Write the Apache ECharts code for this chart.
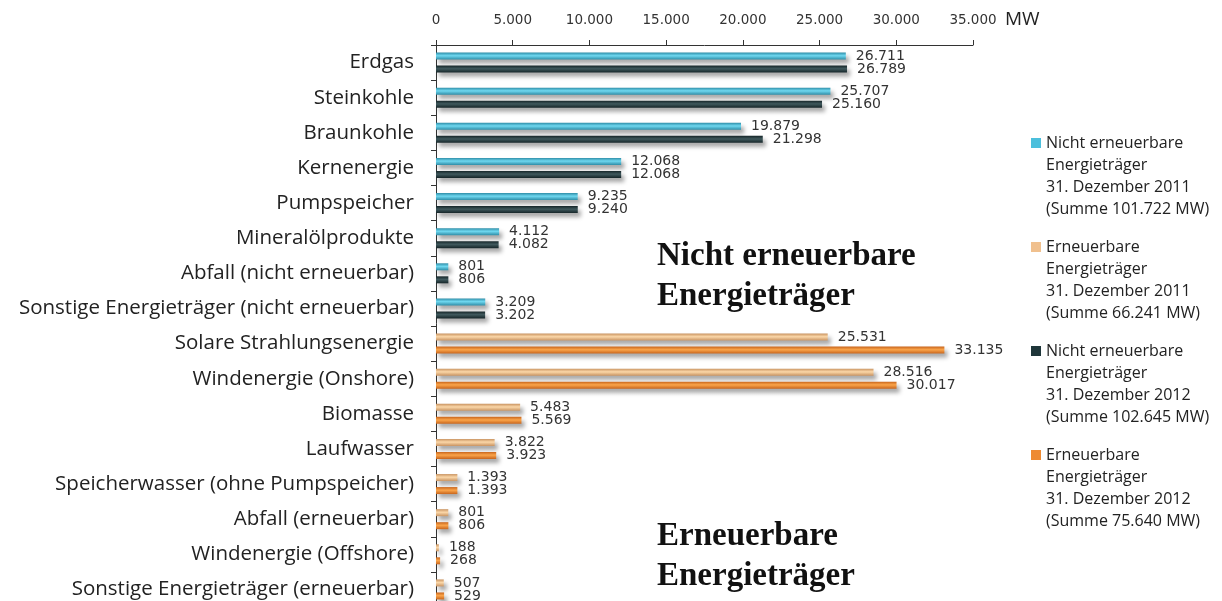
<!DOCTYPE html>
<html>
<head>
<meta charset="utf-8">
<script src="https://cdn.jsdelivr.net/npm/echarts@6/dist/echarts.min.js"></script>
<style>
  html, body { margin: 0; padding: 0; background: #fff; }
  #chart { width: 1222px; height: 601px; }
</style>
</head>
<body>
<div id="chart"></div>
<script>
var categories = ['Erdgas', 'Steinkohle', 'Braunkohle', 'Kernenergie', 'Pumpspeicher',
    'Mineralölprodukte', 'Abfall (nicht erneuerbar)', 'Sonstige Energieträger (nicht erneuerbar)',
    'Solare Strahlungsenergie', 'Windenergie (Onshore)', 'Biomasse', 'Laufwasser',
    'Speicherwasser (ohne Pumpspeicher)', 'Abfall (erneuerbar)', 'Windenergie (Offshore)',
    'Sonstige Energieträger (erneuerbar)'];

// MW, Stand 31.12.2011 / 31.12.2012
var nonRen2011 = [26711, 25707, 19879, 12068, 9235, 4112, 801, 3209];
var nonRen2012 = [26789, 25160, 21298, 12068, 9240, 4082, 806, 3202];
var ren2011 = [25531, 28516, 5483, 3822, 1393, 801, 188, 507];
var ren2012 = [33135, 30017, 5569, 3923, 1393, 806, 268, 529];

var seriesNames = [
    'Nicht erneuerbare\nEnergieträger\n31. Dezember 2011\n(Summe 101.722 MW)',
    'Erneuerbare\nEnergieträger\n31. Dezember 2011\n(Summe 66.241 MW)',
    'Nicht erneuerbare\nEnergieträger\n31. Dezember 2012\n(Summe 102.645 MW)',
    'Erneuerbare\nEnergieträger\n31. Dezember 2012\n(Summe 75.640 MW)'
];
var legendColors = ['#4cbfdc', '#f0c08e', '#1f363a', '#ee8a32'];
var axisTicks = [0, 5000, 10000, 15000, 20000, 25000, 30000, 35000];

var empty8 = ['-', '-', '-', '-', '-', '-', '-', '-'];

var fmt = function (v) {
    return String(v).replace(/\B(?=(\d{3})+(?!\d))/g, '.');
};

var grad = function (edge, mid) {
    return new echarts.graphic.LinearGradient(0, 0, 0, 1, [
        {offset: 0, color: edge},
        {offset: 0.45, color: mid},
        {offset: 1, color: edge}
    ]);
};

var makeSeries = function (idx, stack, data, edge, mid) {
    return {
        name: seriesNames[idx],
        type: 'bar',
        stack: stack,
        barWidth: 7,
        barGap: '86%',
        data: data,
        itemStyle: {
            color: grad(edge, mid),
            shadowColor: 'rgba(0,0,0,0.35)',
            shadowBlur: 4,
            shadowOffsetX: 3,
            shadowOffsetY: 4
        },
        label: {
            show: true,
            position: 'right',
            distance: 10,
            color: '#333',
            fontFamily: 'DejaVu Sans',
            fontSize: 14,
            formatter: function (p) { return fmt(p.value); }
        }
    };
};

// square sits on the first text line, the rest of the icon box is empty
var legendIcon = 'path://M0,0L0.01,0L0.01,0.01Z M0,6L10,6L10,16L0,16Z M0,88L0.01,88L0.01,87.99Z';

var chart = echarts.init(document.getElementById('chart'));
var option = {
    animation: false,
    backgroundColor: '#fff',
    grid: {left: 436, right: 249, top: 45, bottom: -6, outerBoundsMode: 'none'},
    legend: {
        orient: 'vertical',
        left: 1031,
        top: 132,
        padding: 0,
        itemGap: 16,
        itemWidth: 10,
        itemHeight: 88,
        icon: legendIcon,
        textStyle: {
            fontFamily: 'Open Sans',
            fontSize: 16,
            color: '#222',
            lineHeight: 22
        },
        data: seriesNames.map(function (n, i) {
            return {name: n, itemStyle: {color: legendColors[i], shadowBlur: 0, shadowColor: 'transparent'}};
        })
    },
    xAxis: {
        type: 'value',
        position: 'top',
        min: 0,
        max: 35000,
        interval: 5000,
        name: 'MW',
        nameLocation: 'end',
        nameGap: 32,
        nameTextStyle: {
            fontFamily: 'Open Sans',
            fontSize: 19,
            color: '#222',
            verticalAlign: 'bottom',
            lineHeight: 50
        },
        splitLine: {show: false},
        axisLine: {show: true, lineStyle: {color: '#333'}},
        axisTick: {show: true, length: 5, lineStyle: {color: '#333'}},
        axisLabel: {
            margin: 18,
            color: '#333',
            fontFamily: 'DejaVu Sans',
            fontSize: 13.5,
            formatter: function (v) { return axisTicks.indexOf(v) >= 0 ? fmt(v) : ''; }
        }
    },
    yAxis: {
        type: 'category',
        inverse: true,
        data: categories,
        axisLine: {show: true, lineStyle: {color: '#333'}},
        axisTick: {show: true, length: 5, lineStyle: {color: '#333'}},
        axisLabel: {
            margin: 22,
            color: '#222',
            fontFamily: 'Open Sans',
            fontSize: 20.5
        }
    },
    series: [
        makeSeries(0, 'y2011', nonRen2011.concat(empty8), '#2f8ea8', '#6fd8f0'),
        makeSeries(1, 'y2011', empty8.concat(ren2011), '#c99462', '#fbd7a8'),
        makeSeries(2, 'y2012', nonRen2012.concat(empty8), '#152528', '#40595d'),
        makeSeries(3, 'y2012', empty8.concat(ren2012), '#c8651c', '#fba54a')
    ],
    graphic: [
        {
            type: 'text',
            left: 657,
            top: 236,
            style: {
                text: 'Nicht erneuerbare\nEnergieträger',
                font: 'bold 33px "Liberation Serif"',
                lineHeight: 40,
                fill: '#111'
            }
        },
        {
            type: 'text',
            left: 657,
            top: 516,
            style: {
                text: 'Erneuerbare\nEnergieträger',
                font: 'bold 33px "Liberation Serif"',
                lineHeight: 40,
                fill: '#111'
            }
        }
    ]
};
chart.setOption(option);
</script>
</body>
</html>
